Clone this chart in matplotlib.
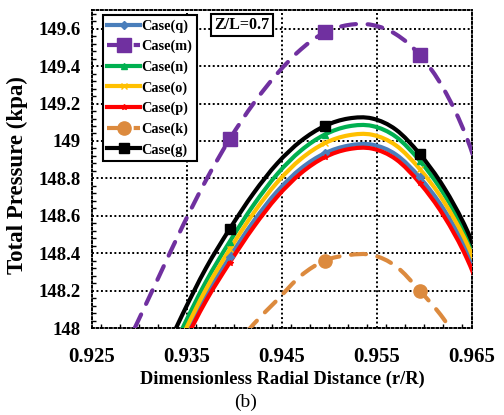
import numpy as np
import matplotlib
matplotlib.use("Agg")
import matplotlib.pyplot as plt
from matplotlib.path import Path
from matplotlib.patches import PathPatch
from matplotlib.ticker import FixedLocator, MultipleLocator, FuncFormatter

plt.rcParams['font.family'] = ['Liberation Serif', 'DejaVu Serif']

# radial positions and pressures
r_main = [0.932, 0.9345, 0.937, 0.9395, 0.942, 0.9445, 0.947, 0.9495,
          0.952, 0.9545, 0.957, 0.9595, 0.962, 0.9645, 0.967]
case_g = [147.80, 148.07, 148.32, 148.53, 148.72, 148.88, 149.00, 149.08,
          149.12, 149.12, 149.06, 148.93, 148.755, 148.52, 148.20]
case_n = [147.725, 147.996, 148.248, 148.462, 148.657, 148.823, 148.949, 149.034,
          149.078, 149.08, 149.022, 148.894, 148.72, 148.485, 148.165]
case_o = [147.685, 147.955, 148.207, 148.42, 148.614, 148.779, 148.904, 148.988,
          149.03, 149.033, 148.976, 148.85, 148.679, 148.448, 148.13]
case_q = [147.66, 147.925, 148.172, 148.38, 148.57, 148.731, 148.853, 148.934,
          148.975, 148.98, 148.927, 148.805, 148.637, 148.408, 148.09]
case_p = [147.637, 147.902, 148.145, 148.35, 148.539, 148.702, 148.828, 148.913,
          148.956, 148.959, 148.902, 148.775, 148.602, 148.368, 148.048]

r_m = [0.9295, 0.932, 0.9345, 0.937, 0.9395, 0.942, 0.9445, 0.947, 0.9495,
       0.952, 0.9545, 0.957, 0.9595, 0.962, 0.9645, 0.967]
case_m = [148.0, 148.27, 148.54, 148.79, 149.01, 149.2, 149.36, 149.49, 149.58,
          149.62, 149.62, 149.57, 149.46, 149.28, 149.01, 148.62]

r_k = [0.9395, 0.942, 0.9445, 0.947, 0.9495, 0.952, 0.9545, 0.957, 0.9595,
       0.962, 0.9645]
case_k = [147.87, 148.02, 148.15, 148.28, 148.36, 148.39, 148.39, 148.33, 148.2,
          148.05, 147.85]

# indices that carry a marker (r/R = 0.9395, 0.9495, 0.9595)
mk_main = [3, 7, 11]
mk_m = [4, 8, 12]
mk_k = [0, 4, 8]

x_ticks = [0.925, 0.935, 0.945, 0.955, 0.965]


def smooth_path(xs, ys):
    # Excel-style smoothed line: cubic Bezier segments through the points
    p = np.column_stack([xs, ys])
    verts = [p[0]]
    codes = [Path.MOVETO]
    n = len(p)
    for i in range(n - 1):
        p0 = p[i - 1] if i > 0 else p[i]
        p3 = p[i + 2] if i + 2 < n else p[i + 1]
        c1 = p[i] + (p[i + 1] - p0) / 6.0
        c2 = p[i + 1] - (p3 - p[i]) / 6.0
        verts += [c1, c2, p[i + 1]]
        codes += [Path.CURVE4] * 3
    return Path(verts, codes)


def draw_case(ax, xs, ys, marks, color, marker, ms, label, ls='-', z=3, mew=1.0):
    patch = PathPatch(smooth_path(xs, ys), fill=False, edgecolor=color, lw=3.0,
                      ls=ls, capstyle='round', joinstyle='round', zorder=z)
    ax.add_patch(patch)
    ax.plot([xs[i] for i in marks], [ys[i] for i in marks], ls='none', marker=marker,
            ms=ms, color=color, mew=mew, zorder=z + 0.5)
    # legend proxy
    ax.plot([], [], color=color, lw=3.0, ls=ls, marker=marker, ms=ms, mew=mew, label=label)


fig = plt.figure(figsize=(5.04, 4.15), dpi=100)
ax = fig.add_axes([0.1825, 0.2096, 0.754, 0.7663])

dash = (0, (3.6, 2.8))
draw_case(ax, r_main, case_q, mk_main, '#4a7ebb', 'D', 4, 'Case(q)')
draw_case(ax, r_m, case_m, mk_m, '#7030a0', 's', 10, 'Case(m)', ls=dash)
draw_case(ax, r_main, case_n, mk_main, '#00b050', '^', 4, 'Case(n)')
draw_case(ax, r_main, case_o, mk_main, '#ffc000', 'x', 4, 'Case(o)')
draw_case(ax, r_main, case_p, mk_main, '#ff0000', '*', 4, 'Case(p)')
draw_case(ax, r_k, case_k, mk_k, '#dc8a3e', 'o', 9.5, 'Case(k)', ls=dash)
draw_case(ax, r_main, case_g, mk_main, 'black', 's', 6.5, 'Case(g)', z=4)

ax.set_xlim(0.925, 0.965)
ax.set_ylim(148, 149.7)
ax.xaxis.set_major_locator(FixedLocator(x_ticks))
ax.xaxis.set_minor_locator(MultipleLocator(0.002))
ax.yaxis.set_major_locator(MultipleLocator(0.2))
ax.yaxis.set_minor_locator(MultipleLocator(0.04))
ax.xaxis.set_major_formatter(FuncFormatter(lambda v, p: f"{v:.3f}"))
ax.yaxis.set_major_formatter(FuncFormatter(lambda v, p: f"{round(v, 1):g}" if v < 149.65 else ""))
ax.tick_params(which='both', direction='in', top=False, right=False)
ax.tick_params(which='major', length=0)
ax.tick_params(axis='x', which='major', pad=14, labelsize=15)
ax.tick_params(axis='y', which='major', pad=8, labelsize=13.5)
ax.tick_params(which='minor', length=3, width=1)
for lab in ax.get_xticklabels() + ax.get_yticklabels():
    lab.set_fontweight('bold')

ax.grid(True, which='major', color='black', ls=(0, (1, 1.3)), lw=1.4)
for s in ax.spines.values():
    s.set_linestyle((0, (1, 1.3)))
    s.set_linewidth(1.4)

ax.set_xlabel('Dimensionless Radial Distance (r/R)', fontsize=13.2, fontweight='bold', labelpad=2)
ax.set_ylabel('Total Pressure (kpa)', fontsize=16.5, fontweight='bold')
ax.yaxis.set_label_coords(-0.168, 0.48)
fig.text(0.487, 0.02, '(b)', ha='center', fontsize=14)

ax.text(0.395, 0.952, 'Z/L=0.7', transform=ax.transAxes, ha='center', va='center',
        fontsize=11.5, fontweight='bold',
        bbox=dict(boxstyle='square,pad=0.2', fc='white', ec='black', lw=1.5))

leg = ax.legend(loc='upper left', bbox_to_anchor=(0.01, 1.007), fancybox=False,
                framealpha=1, edgecolor='black', handlelength=2.3, handletextpad=0.1,
                borderpad=0.3, labelspacing=0.5, prop={'weight': 'bold', 'size': 10.3})
leg.get_frame().set_linewidth(1.5)

fig.savefig('out.png', dpi=100)
